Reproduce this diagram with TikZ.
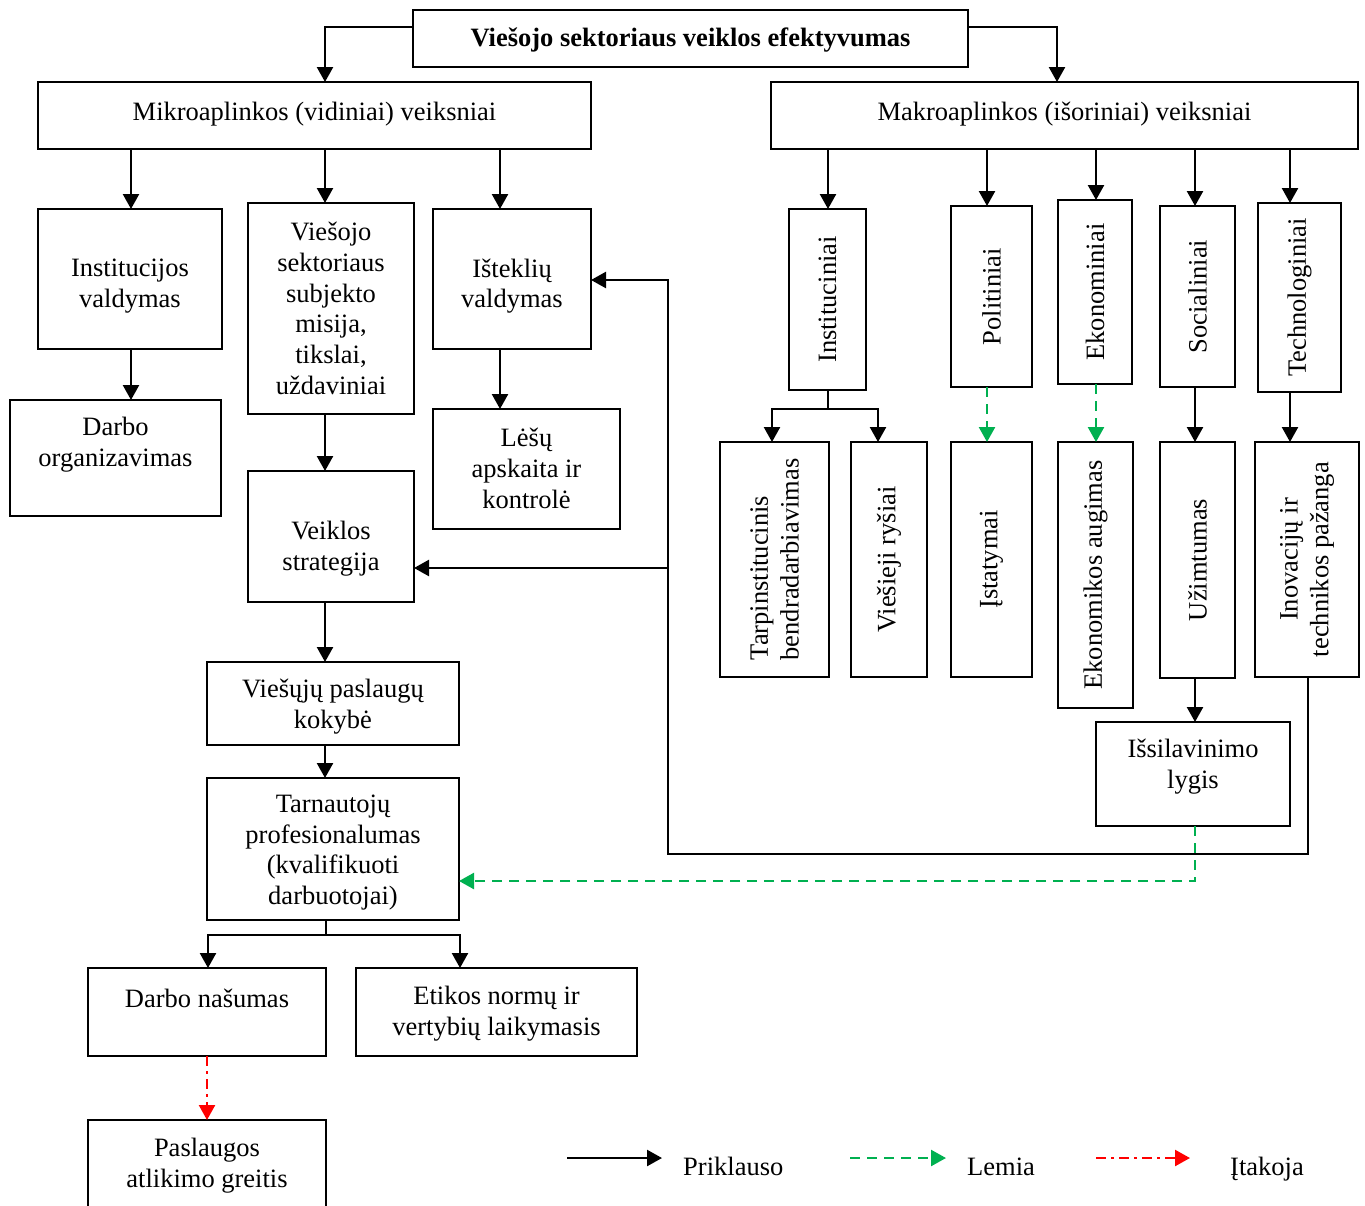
\documentclass[tikz,border=0pt]{standalone}
\usepackage{fontspec}
\setmainfont{Liberation Serif}
\usetikzlibrary{arrows.meta}
\definecolor{lgreen}{HTML}{00B050}
\definecolor{lred}{HTML}{FF0000}
\newcommand{\mybox}[5]{\node[box, anchor=north west, minimum width={(#4-#2)*1pt}, minimum height={(#5-#3)*1pt}] (#1) at (#2,#3) {};}
\tikzset{
  box/.style={draw, line width=2pt, inner sep=0pt, outer sep=0pt},
  txt/.style={align=center, inner sep=0pt},
  htxt/.style={txt, yshift=-2pt},
  conn/.style={line width=2.4pt, -{Triangle[length=15pt,width=16pt]}},
  thinline/.style={line width=1.6pt},
  grn/.style={conn, lgreen, dash pattern=on 10pt off 7pt},
  redd/.style={conn, lred, dash pattern=on 10pt off 5pt on 3pt off 5pt},
}
\begin{document}
\begin{tikzpicture}[x=1pt, y=-1pt, font=\fontsize{26.5}{30.7}\selectfont]
\useasboundingbox (0,0) rectangle (1365,1205);
\clip (0,0) rectangle (1365,1205);
\fill[white] (0,0) rectangle (1365,1205);
% boxes left
\mybox{tb}{413}{10}{968}{67}
\mybox{mi}{38}{82}{591}{149}
\mybox{ma}{771}{82}{1358}{149}
\mybox{iv}{38}{209}{222}{349}
\mybox{vs}{248}{203}{414}{414}
\mybox{is}{433}{209}{591}{349}
\mybox{dorg}{10}{400}{221}{516}
\mybox{le}{433}{409}{620}{529}
\mybox{vst}{248}{471}{414}{602}
\mybox{vp}{207}{662}{459}{745}
\mybox{tp}{207}{778}{459}{920}
\mybox{dn}{88}{968}{326}{1056}
\mybox{et}{356}{968}{637}{1056}
\mybox{pg}{88}{1120}{326}{1220}
% boxes right
\mybox{ins}{789}{209}{866}{390}
\mybox{pol}{951}{206}{1032}{387}
\mybox{eko}{1058}{200}{1132}{384}
\mybox{soc}{1160}{206}{1235}{387}
\mybox{tec}{1258}{203}{1341}{392}
\mybox{tarp}{720}{442}{829}{677}
\mybox{vr}{851}{442}{927}{677}
\mybox{ist}{951}{442}{1032}{677}
\mybox{ea}{1058}{442}{1133}{708}
\mybox{uz}{1160}{442}{1235}{678}
\mybox{ino}{1255}{442}{1359}{677}
\mybox{isl}{1096}{722}{1290}{826}
% texts
\node[htxt] (tbT) at (690.5,38) {\bfseries Viešojo sektoriaus veiklos efektyvumas};
\node[htxt] (miT) at (314.5,112) {Mikroaplinkos (vidiniai) veiksniai};
\node[htxt] (maT) at (1064.5,112) {Makroaplinkos (išoriniai) veiksniai};
\node[htxt] (ivT) at (130,284) {Institucijos\\valdymas};
\node[htxt] (vsT) at (331,306.5) {Viešojo\\sektoriaus\\subjekto\\misija,\\tikslai,\\uždaviniai};
\node[htxt] (isT) at (512,284) {Išteklių\\valdymas};
\node[htxt] (dorgT) at (115.5,443) {Darbo\\organizavimas};
\node[htxt] (leT) at (526.5,466.5) {Lėšų\\apskaita ir\\kontrolė};
\node[htxt] (vstT) at (331,546.5) {Veiklos\\strategija};
\node[htxt] (vpT) at (333,704.5) {Viešųjų paslaugų\\kokybė};
\node[htxt] (tpT) at (333,850.5) {Tarnautojų\\profesionalumas\\(kvalifikuoti\\darbuotojai)};
\node[htxt] (dnT) at (207,996) {Darbo našumas};
\node[htxt] (etT) at (496.5,1011.5) {Etikos normų ir\\vertybių laikymasis};
\node[htxt] (pgT) at (207,1163.5) {Paslaugos\\atlikimo greitis};
\node[htxt] (islT) at (1193,764.5) {Išsilavinimo\\lygis};
\node[txt, rotate=90] (insT) at (ins.center) {Instituciniai};
\node[txt, rotate=90] (polT) at (pol.center) {Politiniai};
\node[txt, rotate=90] (ekoT) at (eko.center) {Ekonominiai};
\node[txt, rotate=90] (socT) at (soc.center) {Socialiniai};
\node[txt, rotate=90] (tecT) at (tec.center) {Technologiniai};
\node[txt, rotate=90, align=left] (tarpT) at (tarp.center) {Tarpinstitucinis\\bendradarbiavimas};
\node[txt, rotate=90] (vrT) at (vr.center) {Viešieji ryšiai};
\node[txt, rotate=90] (istT) at (ist.center) {Įstatymai};
\node[txt, rotate=90] (eaT) at (ea.center) {Ekonomikos augimas};
\node[txt, rotate=90] (uzT) at (uz.center) {Užimtumas};
\node[txt, rotate=90] (inoT) at (ino.center) {Inovacijų ir\\technikos pažanga};
% connectors left
\draw[conn] (tb.west |- 0,27) -| (mi.north -| 325,0);
\draw[conn] (tb.east |- 0,27) -| (ma.north -| 1057,0);
\draw[conn] (mi.south -| 131,0) -- (iv.north -| 131,0);
\draw[conn] (mi.south -| 325,0) -- (vs.north -| 325,0);
\draw[conn] (mi.south -| 500,0) -- (is.north -| 500,0);
\draw[conn] (iv.south -| 131,0) -- (dorg.north -| 131,0);
\draw[conn] (is.south -| 500,0) -- (le.north -| 500,0);
\draw[conn] (vs.south -| 325,0) -- (vst.north -| 325,0);
\draw[conn] (vst.south -| 325,0) -- (vp.north -| 325,0);
\draw[conn] (vp.south -| 325,0) -- (tp.north -| 325,0);
\draw[thinline] (tp.south -| 326,0) -- ++(0,15) coordinate (tj);
\draw[conn] (tj) -| (dn.north -| 208,0);
\draw[conn] (tj) -| (et.north -| 460,0);
\draw[redd] (dn.south) -- (pg.north);
% connectors right
\draw[conn] (ma.south -| 828,0) -- (ins.north -| 828,0);
\draw[conn] (ma.south -| 987,0) -- (pol.north -| 987,0);
\draw[conn] (ma.south -| 1096,0) -- (eko.north -| 1096,0);
\draw[conn] (ma.south -| 1195,0) -- (soc.north -| 1195,0);
\draw[conn] (ma.south -| 1290,0) -- (tec.north -| 1290,0);
\draw[thinline] (ins.south -| 828,0) -- ++(0,19) coordinate (ij);
\draw[conn] (ij) -| (tarp.north -| 772,0);
\draw[conn] (ij) -| (vr.north -| 878,0);
\draw[grn] (pol.south -| 987,0) -- (ist.north -| 987,0);
\draw[grn] (eko.south -| 1096,0) -- (ea.north -| 1096,0);
\draw[conn] (soc.south -| 1195,0) -- (uz.north -| 1195,0);
\draw[conn] (tec.south -| 1290,0) -- (ino.north -| 1290,0);
\draw[conn] (uz.south -| 1195,0) -- (isl.north -| 1195,0);
\draw[grn] (isl.south -| 1195,0) |- (tp.east |- 0,881);
\coordinate (j1) at (668,854);
\coordinate (j2) at (668,568);
\draw[line width=1.8pt] (ino.south -| 1308,0) |- (j1) -- (j2);
\draw[conn] (j2) |- (is.east |- 0,280);
\draw[conn] (j2) -- (vst.east |- j2);
% legend
\coordinate (l1a) at (567,1158); \coordinate (l1b) at (662,1158);
\coordinate (l2a) at (850,1158); \coordinate (l2b) at (946,1158);
\coordinate (l3a) at (1096,1158); \coordinate (l3b) at (1190,1158);
\draw[conn] (l1a) -- (l1b);
\draw[grn] (l2a) -- (l2b);
\draw[redd] (l3a) -- (l3b);
\node[txt, anchor=base west] (lt1) at (683,1175) {Priklauso};
\node[txt, anchor=base west] (lt2) at (967,1175) {Lemia};
\node[txt, anchor=base west] (lt3) at (1230,1175) {Įtakoja};
\end{tikzpicture}
\end{document}
